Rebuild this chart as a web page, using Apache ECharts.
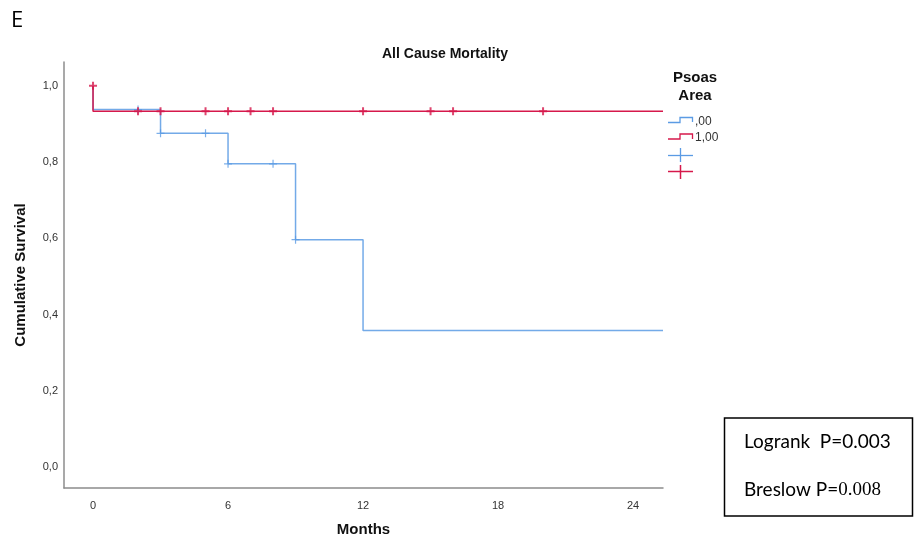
<!DOCTYPE html>
<html>
<head>
<meta charset="utf-8">
<script src="https://cdn.jsdelivr.net/npm/echarts@6/dist/echarts.min.js"></script>
<style>
  html, body { margin: 0; padding: 0; background: #fff; }
  #echart { width: 915px; height: 541px; }
</style>
</head>
<body>
<div id="echart"></div>
<script>
var myChart = echarts.init(document.getElementById('echart'));

// Kaplan-Meier steps (months, cumulative survival)
var endTime = 25.33;
var timeTicks = [0, 6, 12, 18, 24];
var survTicks = [0, 0.2, 0.4, 0.6, 0.8, 1.0];

// group ,00
var stepTime0 = [0, 0, 3, 6, 9, 12, endTime];
var stepSurv0 = [1.0, 0.9375, 0.875, 0.795, 0.596, 0.358, 0.358];
var censTime0 = [2, 3, 5, 6, 8, 9];
var censSurv0 = [0.9375, 0.875, 0.875, 0.795, 0.795, 0.596];

// group 1,00
var stepTime1 = [0, 0, endTime];
var stepSurv1 = [1.0, 0.933, 0.933];
var censTime1 = [0, 2, 3, 5, 6, 7, 8, 12, 15, 16, 20];
var censSurv1 = [1.0, 0.933, 0.933, 0.933, 0.933, 0.933, 0.933, 0.933, 0.933, 0.933, 0.933];

var blue = '#5b9be4';
var red = '#d6184b';
var fontSans = '"Liberation Sans", Arial, sans-serif';

function pairs(xs, ys) {
    var out = [];
    for (var i = 0; i < xs.length; i++) {
        out.push([xs[i], ys[i]]);
    }
    return out;
}

var crossPath = 'path://M0,3.4h8v1.2h-8z M3.4,0h1.2v8h-1.2z';
var crossBold = 'path://M0,3h8v2h-8z M3,0h2v8h-2z';

var option = {
    animation: false,
    title: {
        text: 'All Cause Mortality',
        left: 440,
        top: 42,
        textAlign: 'center',
        textStyle: {fontFamily: fontSans, fontSize: 14, fontWeight: 'bold', color: '#111'}
    },
    grid: {left: 64, right: 252, top: 62, bottom: 53, outerBoundsMode: 'none', containLabel: false},
    xAxis: {
        type: 'value',
        min: -1.29,
        max: endTime,
        name: 'Months',
        nameLocation: 'middle',
        nameGap: 34,
        nameTextStyle: {fontFamily: fontSans, fontSize: 15, fontWeight: 'bold', color: '#111'},
        axisLine: {show: true, onZero: false, lineStyle: {color: '#8c8c8c', width: 1.5}},
        axisTick: {show: false},
        splitLine: {show: false},
        axisLabel: {
            customValues: timeTicks,
            margin: 12,
            fontFamily: fontSans,
            fontSize: 11,
            color: '#333'
        }
    },
    yAxis: {
        type: 'value',
        min: -0.055,
        max: 1.062,
        name: 'Cumulative Survival',
        nameLocation: 'middle',
        nameGap: 36,
        nameTextStyle: {fontFamily: fontSans, fontSize: 15, fontWeight: 'bold', color: '#111'},
        axisLine: {show: true, onZero: false, lineStyle: {color: '#8c8c8c', width: 1.5}},
        axisTick: {show: false},
        splitLine: {show: false},
        axisLabel: {
            customValues: survTicks,
            margin: 6,
            fontFamily: fontSans,
            fontSize: 11,
            color: '#333',
            formatter: function (v) {
                return v.toFixed(1).replace('.', ',');
            }
        }
    },
    series: [
        {
            name: ',00',
            type: 'line',
            step: 'end',
            showSymbol: false,
            lineStyle: {color: blue, width: 1.5, opacity: 0.85},
            data: pairs(stepTime0, stepSurv0),
            z: 2
        },
        {
            name: '1,00',
            type: 'line',
            step: 'end',
            showSymbol: false,
            lineStyle: {color: red, width: 1.5},
            data: pairs(stepTime1, stepSurv1),
            z: 3
        },
        {
            name: 'censored ,00',
            type: 'scatter',
            symbol: crossPath,
            symbolSize: 8,
            itemStyle: {color: blue},
            data: pairs(censTime0, censSurv0),
            z: 4
        },
        {
            name: 'censored 1,00',
            type: 'scatter',
            symbol: crossBold,
            symbolSize: 8,
            itemStyle: {color: red},
            data: pairs(censTime1, censSurv1),
            z: 5
        }
    ],
    graphic: [
        {
            type: 'text', x: 11, y: 21,
            style: {text: 'E', fontFamily: '"Open Sans", sans-serif', fontSize: 22, fill: '#000',
                verticalAlign: 'middle'}
        },
        // legend
        {
            type: 'text', x: 695, y: 87,
            style: {text: 'Psoas\nArea', fontFamily: fontSans, fontSize: 15, fontWeight: 'bold',
                fill: '#111', align: 'center', verticalAlign: 'middle', lineHeight: 18}
        },
        {
            type: 'polyline',
            shape: {points: [[668, 122.5], [680, 122.5], [680, 117.5], [692.5, 117.5], [692.5, 122]]},
            style: {stroke: blue, lineWidth: 1.3, fill: null}
        },
        {
            type: 'text', x: 695, y: 122,
            style: {text: ',00', fontFamily: fontSans, fontSize: 12, fill: '#333', verticalAlign: 'middle'}
        },
        {
            type: 'polyline',
            shape: {points: [[668, 139], [680, 139], [680, 134], [692.5, 134], [692.5, 139]]},
            style: {stroke: red, lineWidth: 1.3, fill: null}
        },
        {
            type: 'text', x: 695, y: 138,
            style: {text: '1,00', fontFamily: fontSans, fontSize: 12, fill: '#333', verticalAlign: 'middle'}
        },
        {
            type: 'polyline', shape: {points: [[668, 155.5], [693, 155.5]]},
            style: {stroke: blue, lineWidth: 1.3, fill: null}
        },
        {
            type: 'polyline', shape: {points: [[680.5, 148], [680.5, 162]]},
            style: {stroke: blue, lineWidth: 1.3, fill: null}
        },
        {
            type: 'polyline', shape: {points: [[668, 171.5], [693, 171.5]]},
            style: {stroke: red, lineWidth: 1.5, fill: null}
        },
        {
            type: 'polyline', shape: {points: [[680.5, 165], [680.5, 179]]},
            style: {stroke: red, lineWidth: 1.5, fill: null}
        },
        // test statistics box
        {
            type: 'rect',
            shape: {x: 724.5, y: 418, width: 188, height: 98},
            style: {fill: '#fff', stroke: '#000', lineWidth: 1.5}
        },
        {
            type: 'text', x: 744, y: 442,
            style: {text: 'Logrank  P=0.003', fontFamily: 'Lato, "Open Sans", sans-serif', fontSize: 19,
                fill: '#000', verticalAlign: 'middle'}
        },
        {
            type: 'text', x: 744, y: 490,
            style: {
                text: '{a|Breslow P=}{b|0.008}',
                verticalAlign: 'middle',
                rich: {
                    a: {fontFamily: 'Lato, "Open Sans", sans-serif', fontSize: 19, fill: '#000'},
                    b: {fontFamily: '"Liberation Serif", "Times New Roman", serif', fontSize: 19, fill: '#000'}
                }
            }
        }
    ]
};
myChart.setOption(option);
</script>
</body>
</html>
